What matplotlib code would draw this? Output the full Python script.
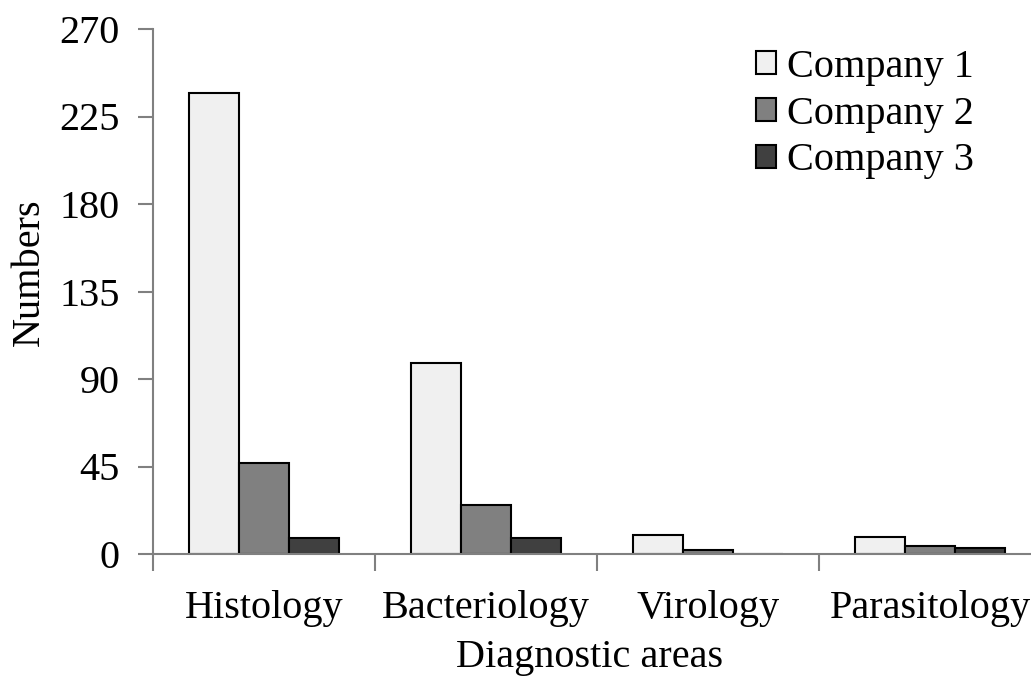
import matplotlib.pyplot as plt
import numpy as np

# counts per diagnostic area
areas = ["Histology", "Bacteriology", "Virology", "Parasitology"]
company1 = [237, 98, 10, 9]
company2 = [47, 25, 2, 4]
company3 = [8, 8, 0, 3]
companies = ["Company 1", "Company 2", "Company 3"]
colors = ["#f0f0f0", "#808080", "#404040"]

plt.rcParams["font.family"] = ["Liberation Serif", "DejaVu Serif"]
plt.rcParams["font.size"] = 29

fig = plt.figure(figsize=(10.31, 6.76), dpi=100)
ax = fig.add_axes([153 / 1031, 122 / 676, 888 / 1031, 525 / 676])

x = np.arange(len(areas))
w = 0.225
for i, (vals, name, c) in enumerate(zip([company1, company2, company3], companies, colors)):
    ax.bar(x + (i - 1) * w, vals, w, color=c, edgecolor="black", linewidth=1.5, label=name)

ax.set_xlim(-0.5, len(areas) - 0.5)
ax.set_ylim(0, 270)
ax.set_yticks(range(0, 271, 45))

# category boundaries as major ticks, names on minor ticks
ax.set_xticks(np.arange(-0.5, len(areas), 1.0))
ax.set_xticklabels([])
ax.set_xticks(x, minor=True)
ax.set_xticklabels(areas, minor=True)
ax.tick_params(axis="x", which="major", length=12, width=1.5, color="#808080", direction="out")
ax.tick_params(axis="x", which="minor", length=0, pad=26)
ax.tick_params(axis="y", length=11, width=1.5, color="#808080", direction="out", pad=13)

for s in ["top", "right"]:
    ax.spines[s].set_visible(False)
for s in ["left", "bottom"]:
    ax.spines[s].set_color("#808080")
    ax.spines[s].set_linewidth(1.5)

# axis titles
fig.text(39 / 1031, 404 / 676, "Numbers", rotation=90, rotation_mode="anchor",
         ha="center", va="baseline")
fig.text(590 / 1031, 9 / 676, "Diagnostic areas", ha="center", va="baseline")

ax.legend(loc="upper right", bbox_to_anchor=(974 / 1031, 627 / 676), bbox_transform=fig.transFigure,
          frameon=False, handlelength=0.5, handleheight=0.5, handletextpad=0.27,
          labelspacing=0.24, borderaxespad=0, borderpad=0)

fig.savefig("out.png", dpi=100)
